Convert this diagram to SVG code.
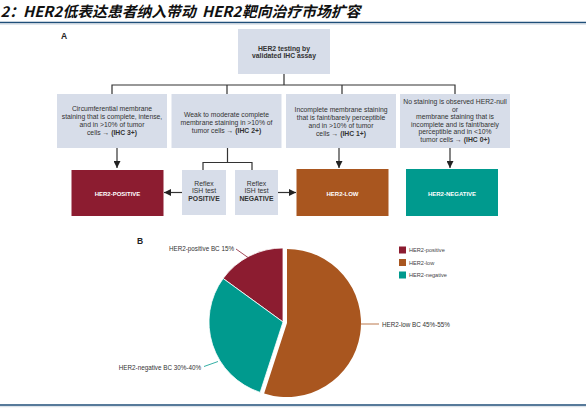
<svg xmlns="http://www.w3.org/2000/svg" width="586" height="413" viewBox="0 0 586 413">
<defs>
<style>
.t{font-family:"Liberation Sans",Arial,sans-serif;fill:#333;font-size:6.8px;text-anchor:middle}
.b{font-weight:bold}
.w{fill:#fff;font-weight:bold;font-size:6px}
.box{fill:#d7dde9}
.c{stroke:#333;stroke-width:1.2;fill:none}
.lab{font-family:"Liberation Sans",Arial,sans-serif;fill:#333;font-size:6.3px}
.leg{font-family:"Liberation Sans",Arial,sans-serif;fill:#444;font-size:5.6px}
</style>
<marker id="ah" markerUnits="userSpaceOnUse" markerWidth="7" markerHeight="7" viewBox="0 0 7 7" refX="7" refY="3.5" orient="auto">
<path d="M0,0 L7,3.5 L0,7 Z" fill="#222"/>
</marker>
</defs>
<rect width="586" height="413" fill="#fff"/>
<g id="title">
<text y="17" font-family="'Noto Sans CJK SC',sans-serif" font-style="italic" font-weight="bold" font-size="14.8" fill="#111"><tspan x="0.5">2：</tspan><tspan x="23">HER2</tspan><tspan x="62.5">低表达患者纳入带动</tspan><tspan x="202">HER2</tspan><tspan x="242">靶向治疗市场扩容</tspan></text>
<line x1="0" y1="22.5" x2="586" y2="22.5" stroke="#1f4e79" stroke-width="1.6"/>
<line x1="0" y1="24.2" x2="586" y2="24.2" stroke="#c9d3de" stroke-width="0.8"/>
<line x1="0" y1="405" x2="586" y2="405" stroke="#1f4e79" stroke-width="1.6"/>
<line x1="0" y1="406.7" x2="586" y2="406.7" stroke="#c9d3de" stroke-width="0.8"/>
</g>
<text x="61" y="39" font-family="'Liberation Sans',Arial,sans-serif" font-weight="bold" font-size="8.5" fill="#222">A</text>
<text x="137" y="244" font-family="'Liberation Sans',Arial,sans-serif" font-weight="bold" font-size="8.5" fill="#222">B</text>
<g id="connectors">
<path class="c" d="M284,74 V85 M112,94 V85 H455 V94 M227,85 V94 M342,85 V94"/>
<path class="c" d="M117,148 V168" marker-end="url(#ah)"/>
<path class="c" d="M339,148 V168" marker-end="url(#ah)"/>
<path class="c" d="M450,148 V168" marker-end="url(#ah)"/>
<path class="c" d="M227.5,148 V162.5 M203,170 V162.5 H252 V170"/>
<path class="c" d="M182,192.5 H164" marker-end="url(#ah)"/>
<path class="c" d="M278,192.5 H296" marker-end="url(#ah)"/>
</g>
<g id="n-testing">
<rect class="box" x="238" y="29" width="92" height="45"/>
<text class="t b" x="284" y="50.5">HER2 testing by</text>
<text class="t b" x="284" y="58.3">validated IHC assay</text>
</g>
<g id="n-ihc3">
<rect class="box" x="57" y="94" width="110" height="54"/>
<text class="t" x="112" y="110.5">Circumferential membrane</text>
<text class="t" x="112" y="118.5">staining that is complete, intense,</text>
<text class="t" x="112" y="126.5">and in &gt;10% of tumor</text>
<text class="t" x="112" y="134.5">cells → <tspan class="b">(IHC 3+)</tspan></text>
</g>
<g id="n-ihc2">
<rect class="box" x="171.5" y="94" width="110" height="54"/>
<text class="t" x="226.5" y="116.5">Weak to moderate complete</text>
<text class="t" x="226.5" y="124.5">membrane staining in &gt;10% of</text>
<text class="t" x="226.5" y="132.5">tumor cells → <tspan class="b">(IHC 2+)</tspan></text>
</g>
<g id="n-ihc1">
<rect class="box" x="286" y="94" width="110" height="54"/>
<text class="t" x="341" y="111.5">Incomplete membrane staining</text>
<text class="t" x="341" y="119.5">that is faint/barely perceptible</text>
<text class="t" x="341" y="127.5">and in &gt;10% of tumor</text>
<text class="t" x="341" y="135.5">cells → <tspan class="b">(IHC 1+)</tspan></text>
</g>
<g id="n-ihc0">
<rect class="box" x="400" y="94" width="110" height="54"/>
<text class="t" x="455" y="104">No staining is observed HER2-null</text>
<text class="t" x="455" y="111.6">or</text>
<text class="t" x="455" y="119.2">membrane staining that is</text>
<text class="t" x="455" y="126.8">incomplete and is faint/barely</text>
<text class="t" x="455" y="134.4">perceptible and in &lt;10%</text>
<text class="t" x="455" y="142">tumor cells → <tspan class="b">(IHC 0+)</tspan></text>
</g>
<g id="n-positive">
<rect x="71.5" y="170" width="92" height="46" fill="#8c1c30"/>
<text class="t w" x="117.5" y="195.5">HER2-POSITIVE</text>
</g>
<g id="n-ish-pos">
<rect class="box" x="182" y="170" width="44" height="45"/>
<text class="t" x="204" y="185.5">Reflex</text>
<text class="t" x="204" y="193.3">ISH test</text>
<text class="t b" x="204" y="201">POSITIVE</text>
</g>
<g id="n-ish-neg">
<rect class="box" x="235" y="170" width="43" height="45"/>
<text class="t" x="256.5" y="185.5">Reflex</text>
<text class="t" x="256.5" y="193.3">ISH test</text>
<text class="t b" x="256.5" y="201">NEGATIVE</text>
</g>
<g id="n-low">
<rect x="296.5" y="169" width="92" height="47" fill="#a9561f"/>
<text class="t w" x="342.5" y="195.5">HER2-LOW</text>
</g>
<g id="n-negative">
<rect x="406" y="169" width="92" height="47" fill="#009a8e"/>
<text class="t w" x="452" y="195.5">HER2-NEGATIVE</text>
</g>
<g id="pie">
<path d="M283,322 L283,248 A74,74 0 0 0 223.13,278.49 Z" fill="#8c1c30" stroke="#fff" stroke-width="0.8"/>
<path d="M283,322 L223.13,278.49 A74,74 0 0 0 260.13,392.38 Z" fill="#009a8e" stroke="#fff" stroke-width="0.8"/>
<path d="M287,323 L287,249 A74,74 0 1 1 264.13,393.38 Z" fill="#a9561f"/>
<line x1="236" y1="249" x2="248" y2="257.5" stroke="#8c1c30" stroke-width="0.8"/>
<line x1="361" y1="324" x2="379" y2="324" stroke="#a9561f" stroke-width="0.8"/>
<line x1="204" y1="366.5" x2="218" y2="361.5" stroke="#009a8e" stroke-width="0.8"/>
<text class="lab" x="234" y="251" text-anchor="end">HER2-positive BC 15%</text>
<text class="lab" x="382" y="326.5">HER2-low BC 45%-55%</text>
<text class="lab" x="201" y="369.5" text-anchor="end">HER2-negative BC 30%-40%</text>
</g>
<g id="legend">
<rect x="399" y="246.5" width="7" height="7" fill="#8c1c30"/>
<rect x="399" y="259" width="7" height="7" fill="#a9561f"/>
<rect x="399" y="271.5" width="7" height="7" fill="#009a8e"/>
<text class="leg" x="409" y="252.2">HER2-positive</text>
<text class="leg" x="409" y="264.7">HER2-low</text>
<text class="leg" x="409" y="277.2">HER2-negative</text>
</g>
</svg>
